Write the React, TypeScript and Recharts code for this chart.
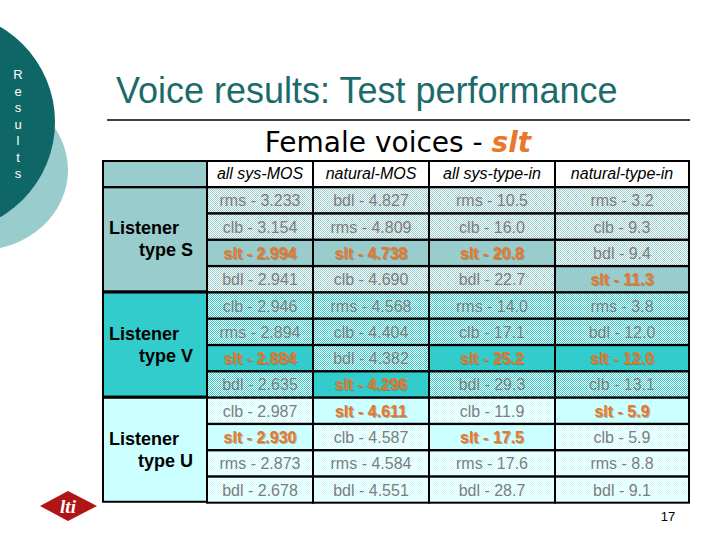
import React from 'react';
import { BarChart, Bar, XAxis, YAxis } from 'recharts';

// column headers of the table
const COLUMNS = ['all sys-MOS', 'natural-MOS', 'all sys-type-in', 'natural-type-in'];
const GROUP_NAMES = ['type S', 'type V', 'type U'];

// ranked results per listener type, one row per rank, one entry per column
const TYPE_S = [
  ['rms - 3.233', 'bdl - 4.827', 'rms - 10.5', 'rms - 3.2'],
  ['clb - 3.154', 'rms - 4.809', 'clb - 16.0', 'clb - 9.3'],
  ['slt - 2.994', 'slt - 4.738', 'slt - 20.8', 'bdl - 9.4'],
  ['bdl - 2.941', 'clb - 4.690', 'bdl - 22.7', 'slt - 11.3'],
];
const TYPE_V = [
  ['clb - 2.946', 'rms - 4.568', 'rms - 14.0', 'rms - 3.8'],
  ['rms - 2.894', 'clb - 4.404', 'clb - 17.1', 'bdl - 12.0'],
  ['slt - 2.884', 'bdl - 4.382', 'slt - 25.2', 'slt - 12.0'],
  ['bdl - 2.635', 'slt - 4.296', 'bdl - 29.3', 'clb - 13.1'],
];
const TYPE_U = [
  ['clb - 2.987', 'slt - 4.611', 'clb - 11.9', 'slt - 5.9'],
  ['slt - 2.930', 'clb - 4.587', 'slt - 17.5', 'clb - 5.9'],
  ['rms - 2.873', 'rms - 4.584', 'rms - 17.6', 'rms - 8.8'],
  ['bdl - 2.678', 'bdl - 4.551', 'bdl - 28.7', 'bdl - 9.1'],
];
const HIGHLIGHT = 'slt';

// layout
const COL_WIDTHS = [104, 106, 116, 126, 134];
const COL_KEYS = ['c0', 'c1', 'c2', 'c3', 'c4'];
const GROUP_FILL = ['#99cccc', '#33cccc', '#ccffff'];
const ORANGE = '#e8782a';
const FONT = '"Liberation Sans", Arial, sans-serif';

const widths = Object.fromEntries(COL_KEYS.map((k, i) => [k, COL_WIDTHS[i]]));
const tableRows = [
  { id: 'header', kind: 'header', group: 0, first: true, cells: ['', ...COLUMNS], ...widths },
  ...[TYPE_S, TYPE_V, TYPE_U].flatMap((rows, gi) =>
    rows.map((r, ri) => ({
      id: `g${gi}-${ri}`,
      kind: 'data',
      group: gi,
      first: ri === 0,
      span: rows.length,
      cells: [GROUP_NAMES[gi], ...r],
      ...widths,
    }))
  ),
];

const TableCell = (props: any) => {
  const { x, y, width, height, payload, col } = props;
  const row = payload;
  if (!row) return <g />;

  if (row.kind === 'header') {
    return (
      <g>
        <rect x={x} y={y} width={width} height={height} fill={col === 0 ? GROUP_FILL[0] : '#ffffff'} stroke="#000" strokeWidth={2} />
        {col > 0 && (
          <text x={x + width / 2} y={y + height / 2 + 5} textAnchor="middle" fontFamily={FONT} fontSize={16} fontStyle="italic" fill="#000">
            {row.cells[col]}
          </text>
        )}
      </g>
    );
  }

  if (col === 0) {
    if (!row.first) return <g />;
    const h = height * row.span;
    const cy = y + h / 2;
    return (
      <g>
        <rect x={x} y={y} width={width} height={h} fill={GROUP_FILL[row.group]} stroke="#000" strokeWidth={2} />
        <text x={x + 6} y={cy - 5} fontFamily={FONT} fontSize={18} fontWeight="bold" fill="#000">Listener</text>
        <text x={x + width - 14} y={cy + 17} textAnchor="end" fontFamily={FONT} fontSize={18} fontWeight="bold" fill="#000">
          {row.cells[0]}
        </text>
      </g>
    );
  }

  const label = row.cells[col];
  const hi = label.startsWith(HIGHLIGHT);
  const tx = x + width / 2;
  const ty = y + height / 2 + 6;
  return (
    <g>
      <rect x={x} y={y} width={width} height={height} fill={hi ? GROUP_FILL[row.group] : `url(#dither-${row.group})`} stroke="#000" strokeWidth={2} />
      {hi ? (
        <>
          <text x={tx + 1} y={ty + 1} textAnchor="middle" fontFamily={FONT} fontSize={16} fontWeight="bold" fill="#7a4a22" opacity={0.45}>{label}</text>
          <text x={tx} y={ty} textAnchor="middle" fontFamily={FONT} fontSize={16} fontWeight="bold" fill={ORANGE}>{label}</text>
        </>
      ) : (
        <text x={tx} y={ty} textAnchor="middle" fontFamily={FONT} fontSize={16} fill="#7d7d7d">{label}</text>
      )}
    </g>
  );
};

const RESULTS = 'Results'.split('');

const Decor = () => (
  <svg width={720} height={540} style={{ position: 'absolute', left: 0, top: 0 }}>
    <ellipse cx={-20} cy={170} rx={88} ry={80} fill="#99cccc" />
    <circle cx={-55} cy={122} r={110} fill="#0f6666" />
    {RESULTS.map((ch, i) => (
      <text key={i} x={18} y={79 + i * 16.5} textAnchor="middle" fontFamily={FONT} fontSize={13} fill="#ffffff">{ch}</text>
    ))}
    <text x={116} y={103} fontFamily={FONT} fontSize={36} fill="#1b6b6b">Voice results: Test performance</text>
    <line x1={107} y1={120} x2={690} y2={120} stroke="#000" strokeWidth={1.5} />
    <text x={398} y={152} textAnchor="middle" fontFamily='"DejaVu Sans", sans-serif' fontSize={28} fill="#000">
      Female voices - <tspan fill={ORANGE} fontWeight="bold" fontStyle="italic">slt</tspan>
    </text>
    <text x={668} y={521} textAnchor="middle" fontFamily={FONT} fontSize={13} fill="#000">17</text>
    <polygon points="40,506 68,491 97,506 68,521" fill="#b01414" />
    <text x={68} y={513} textAnchor="middle" fontFamily='"Liberation Serif", serif' fontSize={19} fontWeight="bold" fontStyle="italic" fill="#ffffff">lti</text>
  </svg>
);

export default function App() {
  const total = COL_WIDTHS.reduce((a, b) => a + b, 0);
  return (
    <div style={{ position: 'absolute', left: 0, top: 0, width: 720, height: 540, background: '#fff', overflow: 'hidden' }}>
      <svg width={0} height={0} style={{ position: 'absolute' }}>
        <defs>
          {GROUP_FILL.map((c, i) => (
            <pattern key={i} id={`dither-${i}`} width={2} height={2} patternUnits="userSpaceOnUse">
              <rect width={2} height={2} fill="#ffffff" />
              <rect width={1} height={1} fill={c} />
              <rect x={1} y={1} width={1} height={1} fill={c} />
            </pattern>
          ))}
        </defs>
      </svg>
      <Decor />
      <div style={{ position: 'absolute', left: 0, top: 0 }}>
        <BarChart
          width={720}
          height={540}
          data={tableRows}
          layout="vertical"
          barCategoryGap={0}
          barGap={0}
          margin={{ top: 161, right: 720 - 103 - total, bottom: 37, left: 103 }}
        >
          <XAxis type="number" domain={[0, total]} hide />
          <YAxis type="category" dataKey="id" hide />
          {COL_KEYS.map((k, i) => (
            <Bar key={k} dataKey={k} stackId="t" isAnimationActive={false} shape={(p: any) => <TableCell {...p} col={i} />} />
          ))}
        </BarChart>
      </div>
    </div>
  );
}
